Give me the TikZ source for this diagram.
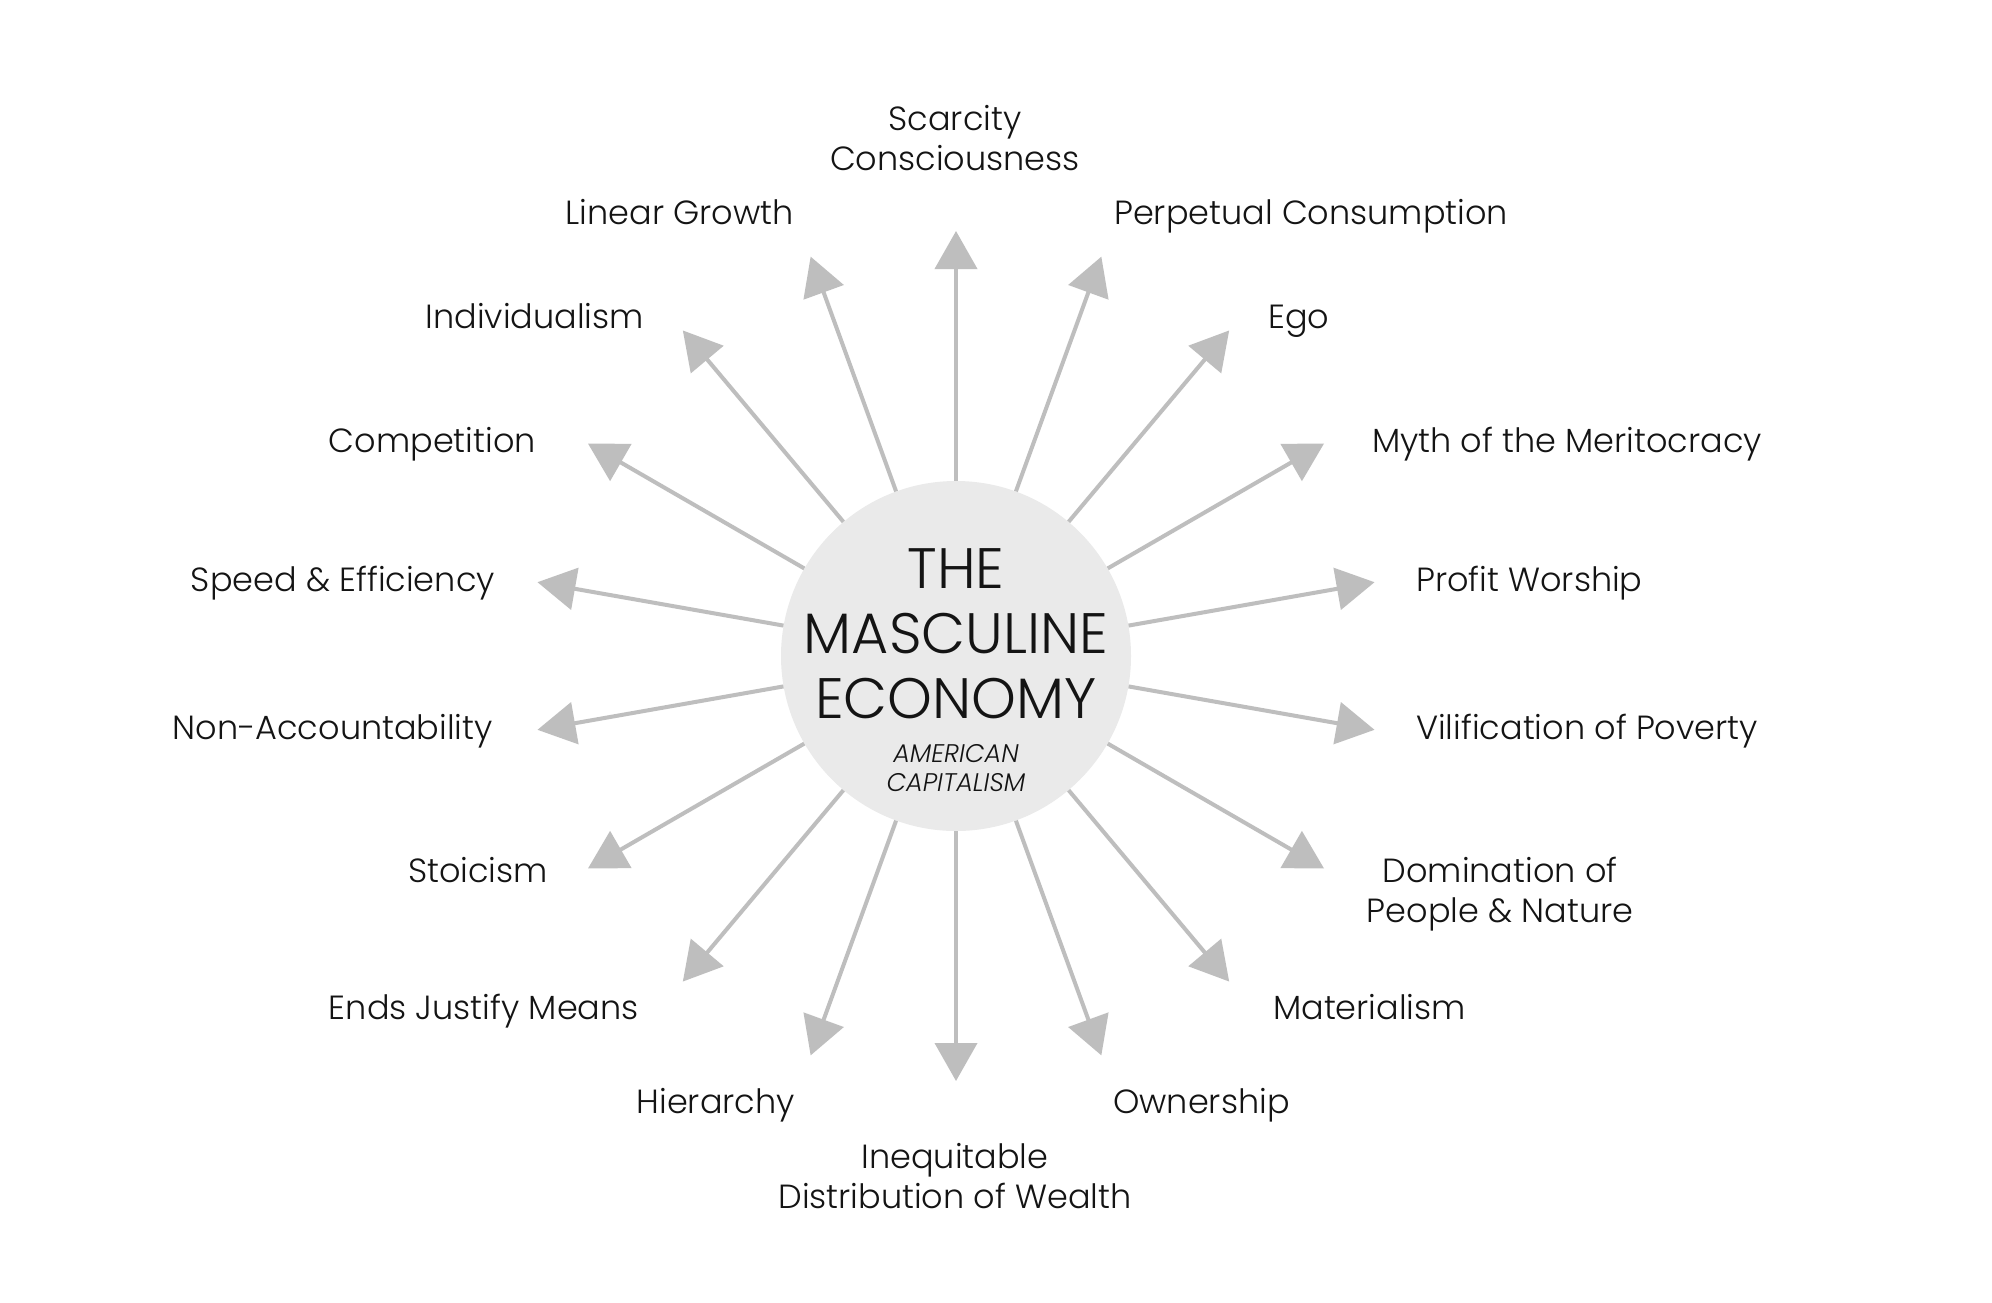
\documentclass[tikz,border=0pt]{standalone}
\usepackage{fontspec}
\setmainfont{Poppins Light}[ItalicFont={Poppins Light Italic}]
\usetikzlibrary{arrows.meta,calc}
\definecolor{arrowgray}{RGB}{190,190,190}
\definecolor{hubgray}{RGB}{234,234,234}
\definecolor{inkblack}{RGB}{20,20,20}
\begin{document}
\begin{tikzpicture}[x=1pt,y=-1pt,
  lbl/.style={font=\fontsize{33.5}{40}\selectfont, text=inkblack, inner sep=0pt},
  lblL/.style={lbl, anchor=mid east},
  lblR/.style={lbl, anchor=mid west},
  lblC/.style={lbl, align=center, anchor=center},
  ray/.style={draw=arrowgray, line width=4pt, -{Triangle[length=38pt,width=42pt]}}]
\useasboundingbox (0,0) rectangle (1992,1302);
\fill[white] (0,0) rectangle (1992,1302);
% hub
\node[circle, fill=hubgray, minimum size=350pt, inner sep=0pt] (c) at (956,656) {};
\node[font=\fontsize{57}{65}\selectfont, text=inkblack, align=center, inner sep=0pt] (title) at (956,634) {THE\\MASCULINE\\ECONOMY};
\node[font=\fontsize{25.5}{29}\selectfont\itshape, text=inkblack, align=center, inner sep=0pt] (sub) at (956,768) {AMERICAN\\CAPITALISM};
% rays
\foreach \a [count=\i] in {90,70,50,30,10,-10,-30,-50,-70,-90,-110,-130,-150,-170,170,150,130,110} {
  \coordinate (t\i) at ($(c.center)+(\a:425pt)$);
  \draw[ray] (c.\a) -- (t\i);
}
% labels
\node[lblC] (l1) at (955,138) {Scarcity\\Consciousness};
\node[lblR] (l2) at (1114,222) {Perpetual Consumption};
\node[lblR] (l3) at (1268,326) {Ego};
\node[lblR] (l4) at (1372,450) {Myth of the Meritocracy};
\node[lblR] (l5) at (1416,589) {Profit Worship};
\node[lblR] (l6) at (1416,737) {Vilification of Poverty};
\node[lblC] (l7) at (1500,894) {Domination of\\People \& Nature};
\node[lblR] (l8) at (1273,1017) {Materialism};
\node[lblR] (l9) at (1113,1111) {Ownership};
\node[lblC] (l10) at (955,1176) {Inequitable\\Distribution of Wealth};
\node[lblL] (l11) at (795,1111) {Hierarchy};
\node[lblL] (l12) at (639,1017) {Ends Justify Means};
\node[lblL] (l13) at (548,880) {Stoicism};
\node[lblL] (l14) at (493,737) {Non-Accountability};
\node[lblL] (l15) at (495,589) {Speed \& Efficiency};
\node[lblL] (l16) at (536,450) {Competition};
\node[lblL] (l17) at (644,326) {Individualism};
\node[lblL] (l18) at (794,222) {Linear Growth};
\end{tikzpicture}
\end{document}
